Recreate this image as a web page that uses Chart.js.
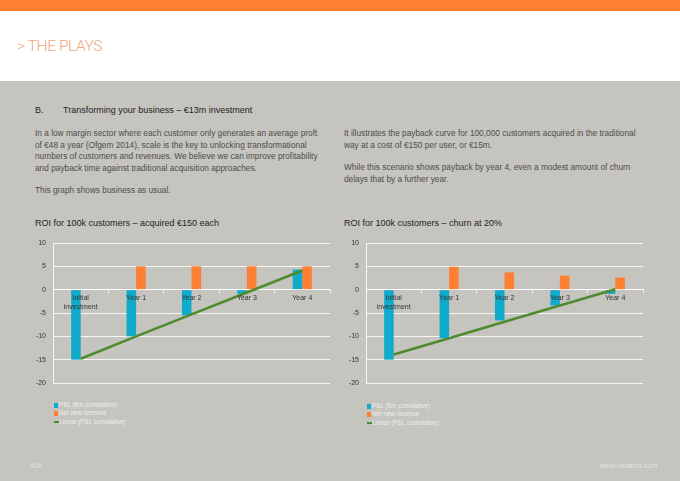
<!DOCTYPE html>
<html>
<head>
<meta charset="utf-8">
<script src="https://cdn.jsdelivr.net/npm/chart.js@4.4.0/dist/chart.umd.min.js"></script>
<style>
  html,body{margin:0;padding:0;}
  body{width:680px;height:481px;position:relative;overflow:hidden;background:#c5c4bf;font-family:"Liberation Sans",Arial,sans-serif;}
  .topbar{position:absolute;left:0;top:0;width:680px;height:11px;background:#ff7f32;}
  .white{position:absolute;left:0;top:11px;width:680px;height:70px;background:#ffffff;}
  .head{position:absolute;left:17px;top:37px;font-family:Roboto,"Liberation Sans",sans-serif;font-weight:300;font-size:15.5px;line-height:18px;color:#eea57c;letter-spacing:-0.4px;}
  .t{position:absolute;white-space:nowrap;}
  .title{font-size:9px;line-height:11px;color:#1e1e1e;}
  .para{font-size:8.3px;line-height:11.5px;color:#4d4d4d;}
  .ctitle{font-size:9px;line-height:11px;color:#1e1e1e;}
  .legend{position:absolute;font-size:6.3px;line-height:8.4px;color:#eeeeea;}
  .legend div{position:relative;padding-left:5px;height:8.4px;white-space:nowrap;}
  .legend span.b{position:absolute;left:0;top:1.8px;width:4px;height:5px;}
  .legend span.l{position:absolute;left:0;top:3.6px;width:4.5px;height:1.6px;}
  .foot{position:absolute;font-size:7px;line-height:9px;color:#e4e3de;}
  canvas{position:absolute;}
</style>
</head>
<body>
<div class="topbar"></div>
<div class="white"></div>
<div class="head">&gt; THE PLAYS</div>

<div class="t title" style="left:35px;top:104.5px;">B.</div>
<div class="t title" style="left:63px;top:104.5px;">Transforming your business – €13m investment</div>

<div class="t para" style="left:35px;top:128px;">In a low margin sector where each customer only generates an average proft<br>of €48 a year (Ofgem 2014), scale is the key to unlocking transformational<br>numbers of customers and revenues. We believe we can improve profitability<br>and payback time against traditional acquisition approaches.</div>
<div class="t para" style="left:35px;top:184.5px;">This graph shows business as usual.</div>

<div class="t para" style="left:344px;top:128px;">It illustrates the payback curve for 100,000 customers acquired in the traditional<br>way at a cost of €150 per user, or €15m.</div>
<div class="t para" style="left:344px;top:162px;">While this scenario shows payback by year 4, even a modest amount of churn<br>delays that by a further year.</div>

<div class="t ctitle" style="left:35px;top:217.5px;">ROI for 100k customers – acquired €150 each</div>
<div class="t ctitle" style="left:344px;top:217.5px;">ROI for 100k customers – churn at 20%</div>

<canvas id="c1" width="315" height="153" style="left:20px;top:236px;"></canvas>
<canvas id="c2" width="315" height="153" style="left:333px;top:236px;"></canvas>

<div class="legend" style="left:54px;top:401px;">
  <div><span class="b" style="background:#12aacb"></span>P&amp;L (€m cumulative)</div>
  <div><span class="b" style="background:#ff7f32"></span>Net new revenue</div>
  <div><span class="l" style="background:#4e8a2e"></span>Linear (P&amp;L cumulative)</div>
</div>
<div class="legend" style="left:367px;top:402px;">
  <div><span class="b" style="background:#12aacb"></span>P&amp;L (€m cumulative)</div>
  <div><span class="b" style="background:#ff7f32"></span>Net new revenue</div>
  <div><span class="l" style="background:#4e8a2e"></span>Linear (P&amp;L cumulative)</div>
</div>

<div class="foot" style="left:30px;top:461px;">#16</div>
<div class="foot" style="left:600px;top:461px;">www.netatmo.com</div>

<script>
const categories = [["Initial","investment"], "Year 1", "Year 2", "Year 3", "Year 4"];
const yTicks = [10, 5, 0, -5, -10, -15, -20];

// Chart 1: acquired €150 each
const pnl1 = [-15, -10, -5.5, -0.9, 4.3];
const revenue1 = [0, 5, 5, 5, 5];
const linear1 = [-14.8, -10.0, -5.3, -0.6, 4.1];

// Chart 2: churn at 20%
const pnl2 = [-15, -10.4, -6.6, -3.4, -0.9];
const revenue2 = [0, 4.9, 3.7, 3.0, 2.6];
const linear2 = [-13.9, -10.4, -6.9, -3.4, 0.1];

const CYAN = '#12aacb', ORANGE = '#ff7f32', GREEN = '#4e8a2e';
const GRID = 'rgba(255,255,255,0.85)';
const FONT = {family: '"Liberation Sans", Arial, sans-serif', size: 7};

function makeChart(id, pnl, rev, lin) {
  return new Chart(document.getElementById(id), {
    type: 'bar',
    data: {
      labels: categories,
      datasets: [
        {type: 'line', label: 'Linear (P&L cumulative)', data: lin, borderColor: GREEN, borderWidth: 2.6,
         pointRadius: 0, fill: false, order: 0, tension: 0},
        {label: 'P&L (€m cumulative)', data: pnl, backgroundColor: CYAN, order: 1,
         categoryPercentage: 0.345, barPercentage: 1.0},
        {label: 'Net new revenue', data: rev, backgroundColor: ORANGE, order: 1,
         categoryPercentage: 0.345, barPercentage: 1.0}
      ]
    },
    options: {
      responsive: false,
      animation: false,
      devicePixelRatio: 1,
      layout: {padding: {top: 7, right: 5, bottom: 6, left: 0}},
      plugins: {legend: {display: false}, tooltip: {enabled: false}},
      scales: {
        y: {
          min: -20, max: 10,
          afterBuildTicks: (s) => { s.ticks = yTicks.map(v => ({value: v})); },
          afterFit: (s) => { s.width = 33; s.paddingTop = 4; s.paddingBottom = 4; },
          grid: {color: GRID, lineWidth: 1, drawTicks: false},
          border: {color: GRID, width: 1},
          ticks: {color: '#333', font: FONT, padding: 7}
        },
        x: {
          position: {y: 0},
          afterFit: (s) => { s.height = 0; },
          offset: true,
          grid: {display: true, drawOnChartArea: false, color: GRID, tickLength: 3, offset: true},
          border: {color: GRID, width: 1},
          ticks: {z: 1, color: '#333', font: {family: FONT.family, size: 7, lineHeight: 1.25}, padding: 1, maxRotation: 0, autoSkip: false}
        }
      }
    }
  });
}

makeChart('c1', pnl1, revenue1, linear1);
makeChart('c2', pnl2, revenue2, linear2);
</script>
</body>
</html>
